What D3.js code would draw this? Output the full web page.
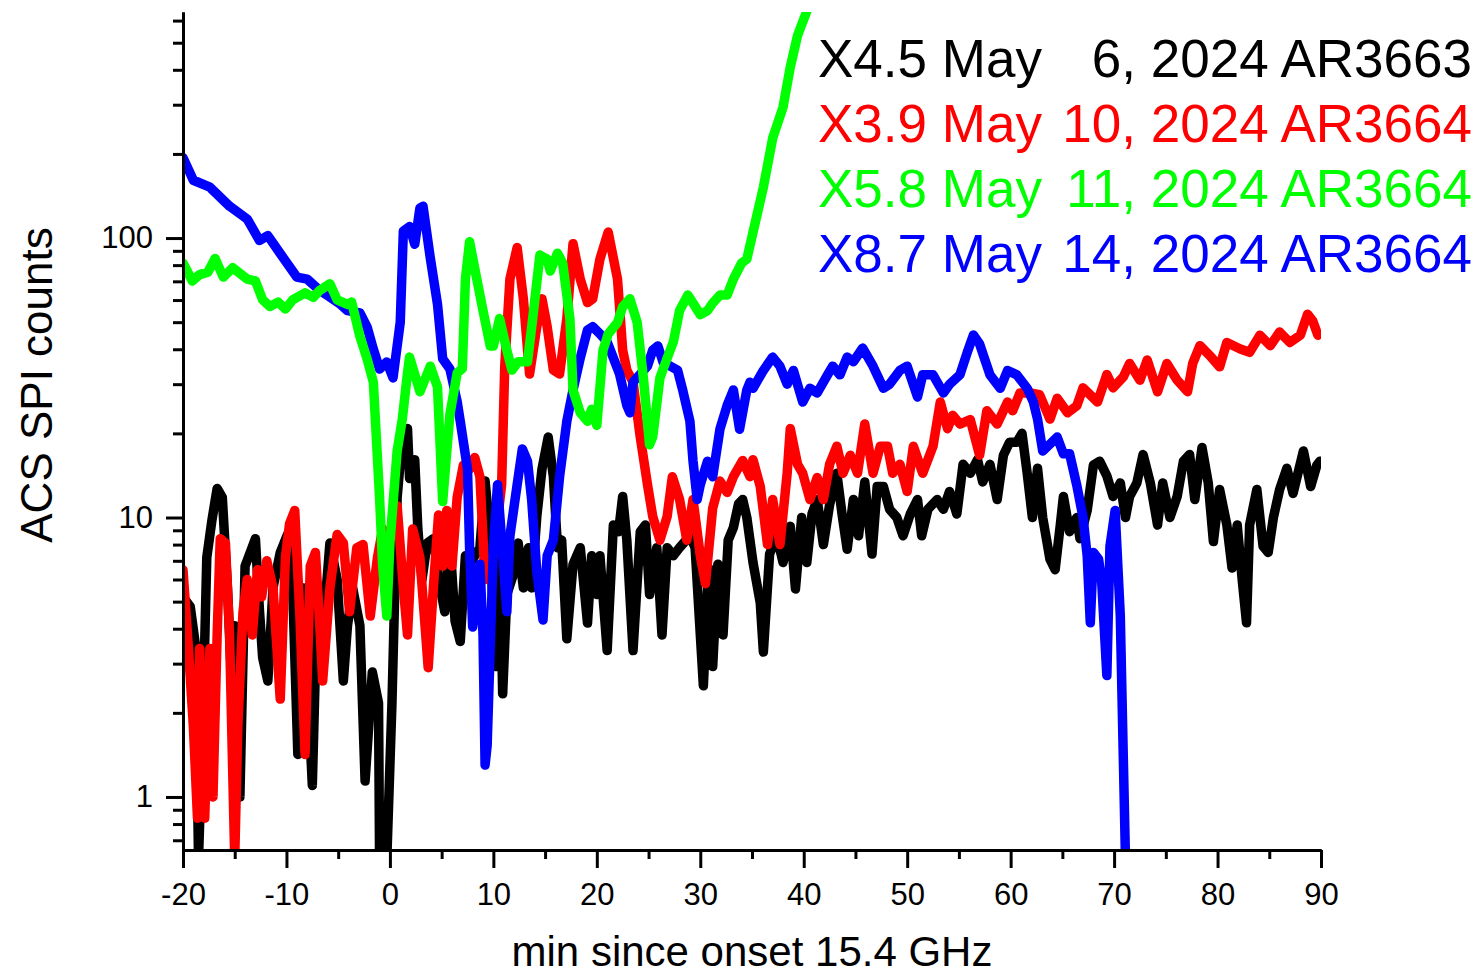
<!DOCTYPE html>
<html lang="en">
<head>
<meta charset="UTF-8">
<title>ACS SPI counts</title>
<script src="https://d3js.org/d3.v7.min.js"></script>
<style>
  body { margin: 0; background: #fff; }
  svg { display: block; font-family: "Liberation Sans", Arial, sans-serif; }
</style>
</head>
<body>
<div id="chart"></div>
<script>
// [minutes since onset, ACS SPI counts]
const x45May06 = [[-20.0,5.2],[-19.3,4.8],[-18.8,3.5],[-18.5,0.6],[-18.1,1.8],[-17.7,7.2],[-17.2,9.8],[-16.7,12.7],[-16.2,11.8],[-15.7,5.6],[-15.3,2.6],[-15.0,4.1],[-14.5,1.0],[-14.0,6.7],[-13.5,7.5],[-13.0,8.4],[-12.6,4.6],[-12.3,3.15],[-11.8,2.6],[-11.3,5.6],[-10.6,7.5],[-9.9,8.7],[-9.4,5.6],[-8.9,1.42],[-8.4,5.6],[-7.5,1.1],[-7.0,5.6],[-6.5,3.8],[-5.8,8.1],[-5.1,6.0],[-4.5,2.6],[-4.1,4.1],[-3.6,5.6],[-2.9,4.1],[-2.4,1.14],[-1.7,2.8],[-1.1,2.17],[-1.0,0.6],[-0.3,0.6],[0.2,2.17],[0.7,11.8],[1.2,19.4],[1.7,20.8],[1.9,13.8],[2.4,16.1],[2.7,9.1],[3.1,6.0],[3.6,8.1],[4.2,8.4],[4.8,5.8],[5.3,4.6],[5.8,8.1],[6.3,4.26],[6.8,3.6],[7.3,7.3],[7.7,6.8],[8.2,7.3],[8.7,7.8],[9.2,13.5],[9.7,8.6],[10.2,2.93],[10.6,8.6],[10.9,2.34],[11.3,5.3],[11.9,6.2],[12.4,8.1],[12.9,5.6],[13.4,7.8],[13.7,5.6],[14.2,10.1],[14.7,14.9],[15.3,19.4],[15.8,14.0],[16.2,7.8],[16.6,8.3],[17.1,3.68],[17.7,6.8],[18.4,7.8],[19.1,4.19],[19.5,7.3],[20.0,5.3],[20.3,7.3],[21.0,3.34],[21.6,9.4],[22.1,8.9],[22.5,11.9],[22.9,8.3],[23.5,3.34],[24.2,8.9],[24.7,9.4],[25.1,5.3],[25.8,7.8],[26.3,3.8],[26.8,7.8],[27.4,7.3],[28.0,7.8],[29.0,8.6],[29.5,7.8],[30.3,2.5],[30.8,6.6],[31.2,2.93],[31.7,6.8],[32.2,3.8],[32.7,8.3],[33.2,9.2],[33.7,11.2],[34.1,11.6],[34.5,10],[35.1,6.9],[35.8,4.95],[36.1,3.3],[36.7,7.4],[37.4,8.6],[38.0,6.9],[38.7,9.3],[39.2,5.55],[39.8,10],[40.3,6.9],[40.8,10.3],[41.3,11.6],[41.9,8.0],[42.5,11.1],[43.2,14.4],[43.7,10.3],[44.2,7.7],[44.8,11.6],[45.3,8.6],[45.9,13.4],[46.6,7.4],[47.1,12.9],[47.7,12.9],[48.3,10.7],[49.0,10],[49.6,8.6],[50.3,10.3],[51.0,11.6],[51.4,8.6],[52.0,10.7],[52.9,11.6],[53.5,10.7],[54.1,12.4],[54.8,10.3],[55.4,15.5],[56.1,14.4],[56.8,16.1],[57.3,13.4],[58.0,15.5],[58.7,11.6],[59.3,16.7],[59.9,18.6],[60.6,18.6],[61.1,20.0],[61.6,14.4],[62.1,10],[62.6,15.0],[63.1,10],[63.8,7.1],[64.3,6.5],[64.8,9.4],[65.1,11.9],[65.7,8.9],[66.4,10],[66.7,8.4],[67.4,10.6],[68.0,15.4],[68.6,15.9],[69.3,14.1],[69.9,11.9],[70.6,13.3],[71.1,10],[71.5,11.9],[72.2,13.3],[72.8,16.8],[73.5,13.3],[74.2,9.4],[74.7,13.3],[75.4,10],[76.1,11.9],[76.7,15.9],[77.3,16.8],[77.8,11.6],[78.5,17.8],[79.1,13.3],[79.6,8.2],[80.2,12.6],[80.9,9.4],[81.4,6.6],[81.9,9.4],[82.4,5.9],[82.8,4.2],[83.1,9.4],[83.8,12.6],[84.4,7.9],[84.9,7.5],[85.4,10],[86.0,12.6],[86.7,15],[87.3,12.2],[88.3,17.3],[89.0,12.9],[89.6,15.4],[89.9,15.9]];

const x39May10 = [[-20.0,6.5],[-19.5,3.5],[-19.0,1.8],[-18.6,0.84],[-18.4,3.4],[-17.9,0.84],[-17.4,3.4],[-17.1,1.0],[-16.7,3.8],[-16.4,8.4],[-15.9,8.1],[-15.5,3.8],[-15.0,0.6],[-14.7,1.8],[-14.2,4.6],[-13.8,6.0],[-13.3,3.8],[-12.8,6.5],[-12.4,5.2],[-11.9,7.0],[-11.3,5.6],[-10.6,2.24],[-10.1,7.2],[-9.7,9.5],[-9.2,10.6],[-8.7,4.44],[-8.2,1.42],[-7.7,6.7],[-7.2,7.5],[-6.8,4.25],[-6.5,2.6],[-5.8,5.6],[-5.1,8.7],[-4.5,8.1],[-3.9,4.6],[-3.2,7.8],[-2.6,8.0],[-1.9,4.44],[-1.2,7.2],[-0.7,9.1],[-0.2,8.1],[0.7,11],[1.3,5.6],[1.7,3.8],[2.2,9.1],[2.9,7.2],[3.7,2.9],[4.2,5.6],[4.7,10.2],[5.1,6.7],[5.5,10.6],[6.0,6.7],[6.5,11.8],[7.1,15.4],[7.7,14.9],[8.2,16.4],[8.7,14.0],[9.2,6.0],[10.0,7.3],[10.8,13.1],[11.1,34.8],[11.6,71.3],[12.3,92.5],[12.9,60.6],[13.5,32.6],[14.2,48.2],[14.7,60.6],[15.2,48.2],[15.8,33.7],[16.4,32.6],[17.1,51.5],[17.7,95.5],[18.4,71.3],[19.1,58.8],[19.6,60.6],[20.3,84.1],[21.1,105],[22.0,71.3],[22.5,39.7],[22.9,33.7],[23.5,30.5],[24.2,19.4],[24.9,13.1],[25.4,10.1],[26.1,8.3],[26.8,10.1],[27.3,14],[28.0,11.6],[28.7,8.3],[29.3,11.6],[30.0,7.3],[30.5,5.8],[31.2,10.8],[31.9,13.5],[32.6,12.3],[33.2,14],[34.1,16],[34.8,14],[35.1,16.1],[35.8,12.9],[36.5,8.0],[37.0,11.6],[37.7,8.0],[38.4,14.4],[38.7,20.8],[39.4,15.5],[39.9,14.4],[40.6,11.6],[41.3,13.9],[41.9,11.6],[42.5,15.5],[43.2,18],[43.8,14.4],[44.5,16.7],[45.2,14.4],[45.9,21.6],[46.7,14.4],[47.4,18],[48.1,18],[48.6,14.4],[49.3,15.5],[50.0,12.4],[50.6,18],[51.5,14.4],[52.5,18],[53.2,25.9],[53.9,20.8],[54.4,23.2],[55.1,21.6],[56.1,22.4],[57.0,16.7],[57.7,24.1],[58.7,21.6],[59.7,25.9],[60.2,24.1],[60.9,27.9],[61.9,27.9],[62.8,27.5],[63.8,22.5],[64.5,26.7],[65.5,23.7],[66.4,25.1],[67.0,29.1],[68.4,25.9],[69.3,32.5],[69.9,29.1],[70.9,31.9],[71.5,35.6],[72.5,31],[73.2,36.6],[74.2,28.2],[75.1,35.6],[76.1,31],[77.1,28.2],[77.6,35.6],[78.3,41.2],[79.3,37.8],[80.2,34.6],[80.9,42.3],[82.2,40.1],[83.1,39.0],[84.1,44.9],[85.1,41.2],[86.0,46.1],[87.0,42.3],[88.0,44.9],[88.7,53.4],[89.2,50.5],[89.7,44.9]];

const x58May11 = [[-20.0,81.4],[-19.1,70.2],[-18.4,74],[-17.6,75.5],[-16.9,84.5],[-16.1,72.5],[-15.2,78.3],[-13.8,71.3],[-13.0,70.2],[-12.3,60.1],[-11.6,56.9],[-10.8,59],[-10.1,55.7],[-9.4,60.1],[-8.2,63.7],[-7.4,61.3],[-6.8,64.9],[-5.8,68.6],[-5.1,60.1],[-4.1,57.9],[-3.7,59],[-2.9,44.5],[-2.2,36.9],[-1.6,30.5],[-1.0,11.8],[-0.7,6.7],[-0.3,4.44],[0.0,8.1],[0.7,17.3],[1.2,22.5],[1.7,32.9],[1.9,37.5],[2.9,28.2],[3.9,34.8],[4.6,29.3],[5.0,13.8],[5.1,11.4],[5.5,17.3],[5.8,23.4],[6.5,32.9],[7.0,34.1],[7.3,71.3],[7.7,97],[8.4,71.3],[9.0,55],[9.7,41.1],[10.0,41.1],[10.6,51.5],[11.3,39.7],[11.8,33.7],[12.4,36.1],[13.3,36.1],[13.8,51.5],[14.5,86.9],[15.2,84.1],[15.5,76.2],[16.2,88.3],[16.7,81.4],[17.4,51.5],[17.7,28.6],[18.4,23.7],[19.1,22.1],[19.5,24.4],[20.0,21.4],[20.6,39.7],[21.1,45.4],[22.0,49.9],[22.5,56.8],[23.2,60.6],[23.9,49.9],[24.5,31.6],[25.1,18.2],[25.4,19.4],[26.1,31.6],[26.8,37.2],[27.4,42.5],[28.0,55],[28.8,62.5],[29.3,58.5],[30.0,53.2],[30.7,55],[31.2,58.5],[31.9,62.5],[32.6,62.5],[33.2,71.3],[34.0,81.4],[34.5,84],[35.1,105],[36.1,152],[37.0,228],[38.0,294],[38.7,409],[39.4,530],[40.3,649],[40.6,720]];

const x87May14 = [[-20.0,194],[-19.0,161],[-17.4,152],[-15.5,130],[-13.8,117],[-12.6,98],[-11.8,102],[-10.6,88],[-9.0,72.5],[-8.0,71.3],[-6.8,65],[-5.8,61.5],[-4.8,58],[-4.1,55],[-2.9,54],[-2.2,48],[-1.6,40],[-1.0,34],[-0.3,36],[0.3,31.6],[1.0,50],[1.3,106],[1.9,110],[2.4,95],[2.9,128],[3.2,130],[3.9,85],[4.6,58],[5.1,37],[5.8,34],[6.5,26],[6.8,22.1],[7.5,14.9],[7.7,7.8],[8.0,4.06],[8.7,6.8],[9.0,3.8],[9.2,1.30],[9.4,1.53],[10.0,7.8],[10.4,13.1],[10.8,8.3],[11.3,4.6],[11.6,8.6],[12.3,13.1],[12.8,17.6],[13.3,15.9],[13.7,11.6],[14.2,6.4],[14.8,4.3],[15.2,7.3],[15.8,8.3],[16.4,14.0],[17.1,22.1],[17.7,28.6],[18.4,37.2],[19.1,46.9],[19.6,48.2],[20.3,45.4],[21.0,42.5],[21.6,37.2],[22.2,32.6],[22.9,25.2],[23.2,23.7],[23.5,30.5],[24.9,34.8],[25.4,39.7],[25.9,41.1],[26.4,36],[27.1,34.8],[27.8,33.7],[28.3,28.6],[29.0,22.1],[29.3,15.9],[29.7,11.6],[30.0,13.1],[30.7,15.9],[31.2,14],[31.9,20.7],[32.6,25.2],[33.2,28.6],[33.8,20.7],[34.5,28.6],[34.8,30.5],[35.1,29],[36.1,33.6],[37.0,37.5],[37.7,34.8],[38.4,30],[39.0,33.6],[39.9,25.9],[40.6,29],[41.3,27.9],[42.3,32.4],[42.8,34.8],[43.5,32.4],[44.2,37.5],[44.8,36.1],[45.7,40.4],[46.7,34.8],[47.7,29],[48.3,30],[49.3,33.6],[50.0,34.8],[51.0,27],[51.5,32.4],[52.5,32.4],[53.5,27.9],[54.1,30],[55.1,32.4],[55.8,38.9],[56.4,45],[57.0,41.8],[58.0,32.4],[59.0,29],[59.7,33.6],[60.6,32.4],[61.6,29],[62.2,25.9],[62.6,22.5],[63.1,17.3],[63.8,18.3],[64.5,19.4],[65.1,16.9],[65.7,16.9],[66.4,13],[67.0,10],[67.4,7.3],[67.7,4.2],[68.0,7.5],[68.5,7.1],[68.8,5.9],[69.3,2.72],[69.6,7.9],[70.1,10.6],[70.6,4.45],[71.1,0.6],[71.2,0.4]];

const seriesNames = ["X4.5 May", "X3.9 May", "X5.8 May", "X8.7 May"];
const seriesDates = ["6, 2024 AR3663", "10, 2024 AR3664", "11, 2024 AR3664", "14, 2024 AR3664"];
const seriesColors = ["#000000", "#ff0000", "#00ff00", "#0000ff"];
const seriesData = [x45May06, x39May10, x58May11, x87May14];

const xMajor = [-20, -10, 0, 10, 20, 30, 40, 50, 60, 70, 80, 90];
const xMinor = [-15, -5, 5, 15, 25, 35, 45, 55, 65, 75, 85];
const yMajor = [1, 10, 100];
const yMinor = [0.7, 0.8, 0.9, 2, 3, 4, 5, 6, 7, 8, 9, 20, 30, 40, 50, 60, 70, 80, 90, 200, 300, 400, 500, 600];

const width = 1483, height = 977;
const plotLeft = 183, plotRight = 1321, plotTop = 12, plotBottom = 850;

const svg = d3.select("#chart").append("svg")
    .attr("width", width)
    .attr("height", height);

const x = d3.scaleLinear().domain([-20, 90]).range([plotLeft, plotRight]);
const y = d3.scaleLog().domain([0.646, 644]).range([plotBottom, plotTop]);

svg.append("clipPath").attr("id", "plot-clip")
  .append("rect")
    .attr("x", plotLeft).attr("y", plotTop)
    .attr("width", plotRight - plotLeft).attr("height", plotBottom - plotTop);

// lines
const line = d3.line().x(d => x(d[0])).y(d => y(d[1]));
const plot = svg.append("g").attr("clip-path", "url(#plot-clip)");
const drawOrder = [0, 1, 3, 2];
drawOrder.forEach(i => {
  plot.append("path")
      .datum(seriesData[i])
      .attr("d", line)
      .attr("fill", "none")
      .attr("stroke", seriesColors[i])
      .attr("stroke-width", 9.5)
      .attr("stroke-linejoin", "round")
      .attr("stroke-linecap", "round");
});

// axes
function styleAxis(g) {
  g.selectAll("path, line").attr("stroke", "#000").attr("stroke-width", 3);
  g.selectAll("text").attr("fill", "#000").attr("font-size", 31)
    .attr("font-family", "'Liberation Sans', Arial, sans-serif");
}

svg.append("g").attr("transform", `translate(0,${plotBottom})`)
  .call(d3.axisBottom(x).tickValues(xMinor).tickSize(9).tickFormat("").tickSizeOuter(0))
  .call(styleAxis);
svg.append("g").attr("transform", `translate(0,${plotBottom})`)
  .call(d3.axisBottom(x).tickValues(xMajor).tickSize(18).tickPadding(15).tickSizeOuter(0).tickFormat(d => d < 0 ? "-" + Math.abs(d) : String(d)))
  .call(styleAxis);

svg.append("g").attr("transform", `translate(${plotLeft},0)`)
  .call(d3.axisLeft(y).tickValues(yMinor).tickSize(10).tickFormat("").tickSizeOuter(0))
  .call(styleAxis);
svg.append("g").attr("transform", `translate(${plotLeft},0)`)
  .call(d3.axisLeft(y).tickValues(yMajor).tickSize(17).tickPadding(13).tickSizeOuter(0).tickFormat(d3.format("d")))
  .call(styleAxis);

// axis titles
svg.append("text")
    .attr("x", (plotLeft + plotRight) / 2)
    .attr("y", 966)
    .attr("text-anchor", "middle")
    .attr("font-size", 42)
    .text("min since onset 15.4 GHz");

svg.append("text")
    .attr("transform", "translate(52,385) rotate(-90)")
    .attr("text-anchor", "middle")
    .attr("font-size", 44)
    .text("ACS SPI counts");

// legend
const legend = svg.append("g");
seriesNames.forEach((name, i) => {
  const by = 77 + i * 65;
  legend.append("text")
      .attr("x", 818).attr("y", by)
      .attr("font-size", 53)
      .attr("fill", seriesColors[i])
      .text(name);
  legend.append("text")
      .attr("x", 1472).attr("y", by)
      .attr("text-anchor", "end")
      .attr("font-size", 53)
      .attr("fill", seriesColors[i])
      .text(seriesDates[i]);
});
</script>
</body>
</html>
